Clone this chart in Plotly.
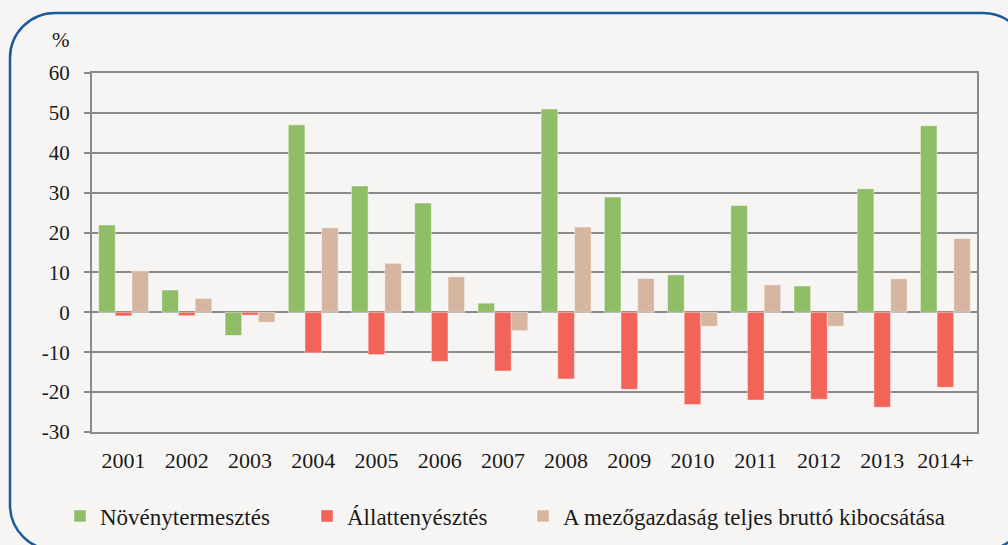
import plotly.graph_objects as go

years = ["2001", "2002", "2003", "2004", "2005", "2006", "2007", "2008",
         "2009", "2010", "2011", "2012", "2013", "2014+"]
noveny = [21.9, 5.6, -5.8, 47.0, 31.7, 27.4, 2.3, 51.0, 28.9, 9.4, 26.8, 6.6, 31.0, 46.8]
allat = [-0.9, -0.85, -0.7, -10.2, -10.6, -12.3, -14.7, -16.7, -19.3, -23.1, -22.0, -21.8, -23.8, -18.8]
teljes = [10.4, 3.5, -2.5, 21.2, 12.3, 8.9, -4.6, 21.4, 8.5, -3.5, 6.9, -3.5, 8.4, 18.5]
names = ["Növénytermesztés", "Állattenyésztés", "A mezőgazdaság teljes bruttó kibocsátása"]
colors = ["#8fbe67", "#f26358", "#d6b6a1"]
y_ticks = [-30, -20, -10, 0, 10, 20, 30, 40, 50, 60]
y_ticktext = ["-30", "-20", "-10", "0", "10", "20", "30", "40", "50", "60"]

W, H = 1008, 545
ML, MR, MT, MB = 92, 31, 73, 113
PW, PH = W - ML - MR, H - MT - MB
FONT = "Liberation Serif, Times New Roman, serif"
GRID = "#8a8a8a"


def px(X):
    return (X - ML) / PW


def py(Y):
    return (H - MB - Y) / PH


fig = go.Figure()
for i, (name, vals, col) in enumerate(zip(names, [noveny, allat, teljes], colors)):
    fig.add_trace(go.Bar(
        x=years, y=vals, name=name, showlegend=True,
        marker=dict(color=col, line=dict(color="rgba(255,255,255,0.45)", width=1)),
        legend="legend" if i == 0 else f"legend{i + 1}",
    ))

# rounded border around the whole chart
x0, x1, y0, y1, r = 10, 1028, 13, 550, 45
k = 0.5523 * r
pts = [
    ("M", [(x0 + r, y0)]),
    ("L", [(x1 - r, y0)]),
    ("C", [(x1 - r + k, y0), (x1, y0 + r - k), (x1, y0 + r)]),
    ("L", [(x1, y1 - r)]),
    ("C", [(x1, y1 - r + k), (x1 - r + k, y1), (x1 - r, y1)]),
    ("L", [(x0 + r, y1)]),
    ("C", [(x0 + r - k, y1), (x0, y1 - r + k), (x0, y1 - r)]),
    ("L", [(x0, y0 + r)]),
    ("C", [(x0, y0 + r - k), (x0 + r - k, y0), (x0 + r, y0)]),
]
path = ""
for cmd, ps in pts:
    path += cmd + " ".join(f"{px(a):.5f},{py(b):.5f}" for a, b in ps) + " "
path += "Z"

legend_common = dict(orientation="h", yanchor="middle", y=py(516), xanchor="left",
                     font=dict(family=FONT, size=23, color="#1a1a1a"),
                     bgcolor="rgba(0,0,0,0)", itemclick=False, itemdoubleclick=False)

fig.update_layout(
    width=W, height=H,
    margin=dict(l=ML, r=MR, t=MT, b=MB, autoexpand=False),
    paper_bgcolor="#f6f5f3", plot_bgcolor="#f6f5f3",
    barmode="group", bargap=0.21, bargroupgap=0,
    showlegend=True,
    font=dict(family=FONT, size=21, color="#1a1a1a"),
    legend=dict(x=px(60), **legend_common),
    legend2=dict(x=px(307), **legend_common),
    legend3=dict(x=px(523), **legend_common),
    xaxis=dict(type="category", showgrid=False, showline=True, mirror=True,
               linecolor=GRID, linewidth=2, ticks="", ticklabelstandoff=8,
               tickfont=dict(size=22), range=[-0.5, 13.5], automargin=False),
    xaxis2=dict(overlaying="x", anchor="free", position=py(312), range=[-0.5, 13.5],
                showgrid=False, showline=True, linecolor=GRID, linewidth=2,
                ticks="outside", ticklen=7, tickwidth=2, tickcolor=GRID,
                tickmode="array", tickvals=[i + 0.5 for i in range(-1, 14)],
                showticklabels=False, zeroline=False, automargin=False),
    yaxis=dict(range=[-30, 60], tickmode="array", tickvals=y_ticks, ticktext=y_ticktext,
               showgrid=True, gridcolor=GRID,
               gridwidth=1.5, zeroline=False, showline=True, mirror=True,
               linecolor=GRID, linewidth=2, ticks="outside", ticklen=6, tickwidth=2,
               tickcolor=GRID, ticklabelstandoff=10, tickfont=dict(size=21),
               automargin=False),
    shapes=[dict(type="path", xref="paper", yref="paper", path=path,
                 line=dict(color="#1b5a9a", width=2.5), layer="below")],
    annotations=[dict(text="%", xref="paper", yref="paper", x=px(61), y=py(40),
                      xanchor="center", yanchor="middle", showarrow=False,
                      font=dict(family=FONT, size=21, color="#1a1a1a"))],
)

fig.write_html("out.html", config={"displayModeBar": False},
               post_script="document.body.style.margin='0';document.body.style.overflow='hidden';")
